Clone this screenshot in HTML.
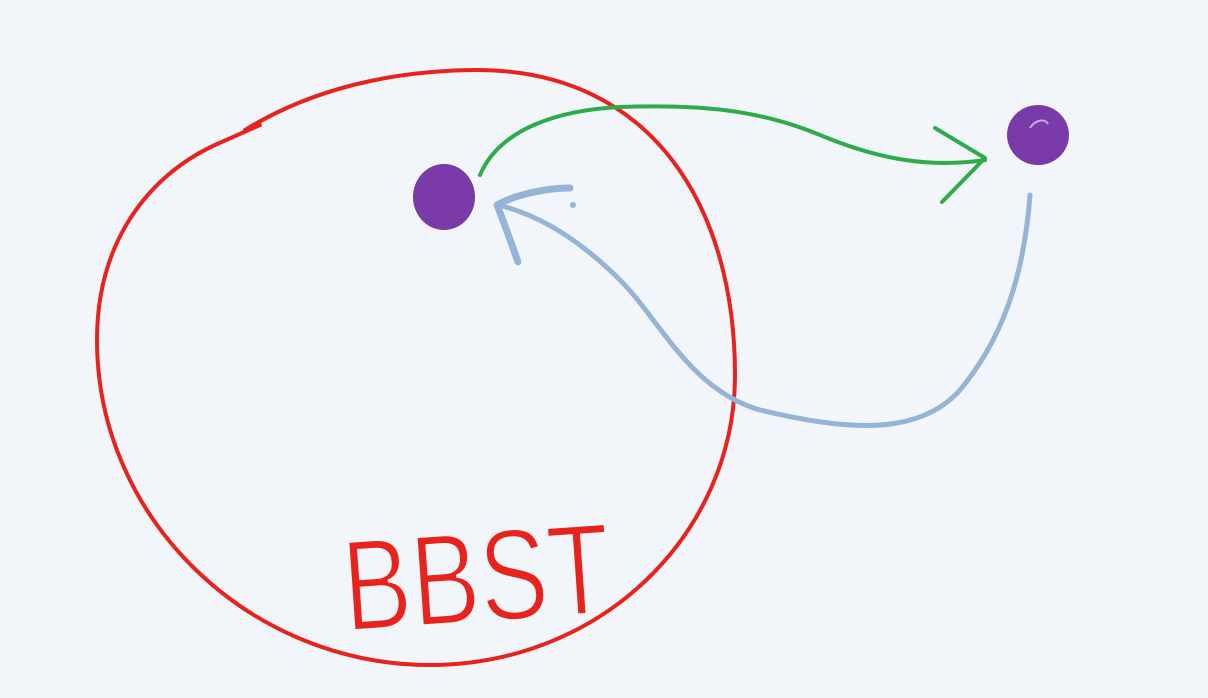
<!DOCTYPE html>
<html><head><meta charset="utf-8"><style>
html,body{margin:0;padding:0;background:#f2f6fb;width:1208px;height:698px;overflow:hidden}
</style></head><body>
<svg width="1208" height="698" viewBox="0 0 1208 698" xmlns="http://www.w3.org/2000/svg">
<rect width="1208" height="698" fill="#f2f6fb"/>
<g fill="none" stroke-linecap="round" stroke-linejoin="round">
<!-- red circle -->
<path d="M245,130 C310,90 390,70 480,70 C655,72 735,210 735,375 C735,535 600,665 430,665 C250,665 97,520 97,340 C97,240 150,175 215,145" stroke="#e8231d" stroke-width="4"/>
<path d="M215,145 L260,125" stroke="#e8231d" stroke-width="4"/>
<!-- green arrow -->
<path d="M480,175 C500,128 560,110 620,107 C700,104 760,110 820,135 C880,160 930,168 985,160" stroke="#2fac4a" stroke-width="4"/>
<path d="M935,128 L985,158 L942,202" stroke="#2fac4a" stroke-width="4"/>
<!-- blue arrow -->
<path d="M1030,195 C1025,260 1010,330 960,390 C920,435 850,432 760,410 C690,390 660,320 620,280 C580,240 540,215 498,205" stroke="#94b5d8" stroke-width="5"/>
<path d="M570,188 C545,188 515,195 497,205 C505,225 512,245 518,262" stroke="#94b5d8" stroke-width="7"/>
<circle cx="573" cy="205" r="3" fill="#94b5d8" stroke="none"/>
</g>
<!-- purple dots -->
<ellipse cx="444" cy="197" rx="31" ry="33" fill="#7a3aa8"/>
<ellipse cx="1038" cy="135" rx="31" ry="30" fill="#7a3aa8"/>
<path d="M1030,128 C1035,120 1045,118 1048,124" stroke="#c9a8e0" stroke-width="2" fill="none"/>
<text x="342" y="622" font-family="Liberation Sans, sans-serif" font-size="130" fill="#e8231d" stroke="#f2f6fb" stroke-width="3" textLength="268" lengthAdjust="spacingAndGlyphs" transform="rotate(-4 476 570)">BBST</text>
</svg>
</body></html>
